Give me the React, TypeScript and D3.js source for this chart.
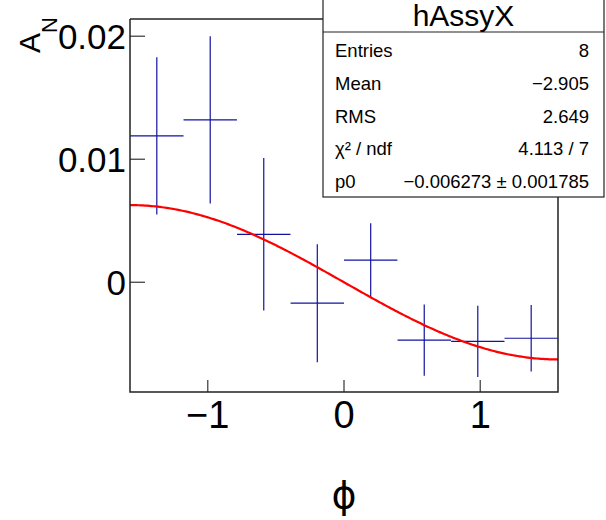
import React from "react";
import * as d3 from "d3";

const xCenters = [-1.374, -0.982, -0.589, -0.196, 0.196, 0.589, 0.982, 1.374];
const binHalfWidth = 0.196;
const values = [0.0119, 0.0132, 0.0039, -0.0017, 0.0018, -0.0047, -0.0048, -0.00455];
const errors = [0.0064, 0.0068, 0.0062, 0.0048, 0.003, 0.0029, 0.0029, 0.0027];
const xTicks = [-1, 0, 1];
const xTickLabels = ["\u22121", "0", "1"];
const yTicks = [0, 0.01, 0.02];
const yTickLabels = ["0", "0.01", "0.02"];
const fitP0 = -0.006273;
const statLabels = ["Entries", "Mean", "RMS", "\u03c7\u00b2 / ndf", "p0"];
const statValues = ["8", "\u22122.905", "2.649", "4.113 / 7", "\u22120.006273 \u00b1 0.001785"];

const W = 606, H = 520;
const L = 130, R = 558, T = 19, B = 392;
const FONT = "'Liberation Sans', Arial, Helvetica, sans-serif";

export default function App() {
  const x = d3.scaleLinear().domain([-Math.PI / 2, Math.PI / 2]).range([L, R]);
  const y = d3.scaleLinear().domain([-0.00892, 0.0214]).range([B, T]);
  const fitPts = d3.range(0, 201).map((i) => -Math.PI / 2 + (Math.PI * i) / 200);
  const fitLine = d3
    .line<number>()
    .x((d) => x(d))
    .y((d) => y(fitP0 * Math.sin(d)))(fitPts);

  const boxL = 323, boxR = 604, boxT = -2, boxB = 197, titleB = 32;

  return (
    <svg width={W} height={H} style={{ position: "absolute", left: 0, top: 0, background: "#fff" }}>
      <rect x={0} y={0} width={W} height={H} fill="#fff" />
      {yTicks.map((t) => (
        <line key={"yt" + t} x1={L} x2={L + 15} y1={y(t)} y2={y(t)} stroke="#444" strokeWidth={1.3} />
      ))}
      {xTicks.map((t) => (
        <line key={"xt" + t} x1={x(t)} x2={x(t)} y1={B} y2={B - 12} stroke="#444" strokeWidth={1.3} />
      ))}
      {xCenters.map((c, i) => (
        <g key={"b" + i} stroke="#12129e" strokeWidth={1.2}>
          <line x1={x(c - binHalfWidth)} x2={x(c + binHalfWidth)} y1={y(values[i])} y2={y(values[i])} />
          <line x1={x(c)} x2={x(c)} y1={y(values[i] - errors[i])} y2={y(values[i] + errors[i])} />
        </g>
      ))}
      <path d={fitLine || ""} fill="none" stroke="#ff0000" strokeWidth={2.2} />
      <path d={`M${L},${T} V${B} H${R} V${boxB}`} fill="none" stroke="#222" strokeWidth={1.5} />
      <line x1={L} x2={boxL} y1={T} y2={T} stroke="#222" strokeWidth={1.5} />
      {yTicks.map((t, i) => (
        <text key={"yl" + t} x={126} y={y(t) + 12.5} textAnchor="end" fontFamily={FONT} fontSize={35} fill="#000">
          {yTickLabels[i]}
        </text>
      ))}
      {xTicks.map((t, i) => (
        <text key={"xl" + t} x={x(t)} y={428} textAnchor="middle" fontFamily={FONT} fontSize={38} fill="#000">
          {xTickLabels[i]}
        </text>
      ))}
      <text x={344} y={508} textAnchor="middle" fontFamily={"'DejaVu Sans', " + FONT} fontSize={38} fill="#000">
        {"\u03d5"}
      </text>
      <text transform="translate(40,17) rotate(-90)" textAnchor="end" fontFamily={FONT} fontSize={30} fill="#000">
        A<tspan fontSize={22} dy={17}>N</tspan>
      </text>
      <rect x={boxL} y={boxT} width={boxR - boxL} height={boxB - boxT} fill="#fff" stroke="#222" strokeWidth={1.2} />
      <line x1={boxL} x2={boxR} y1={titleB} y2={titleB} stroke="#222" strokeWidth={1.2} />
      <text x={(boxL + boxR) / 2} y={26} textAnchor="middle" fontFamily={FONT} fontSize={30} fill="#000">
        hAssyX
      </text>
      {statLabels.map((s, i) => (
        <g key={"s" + i}>
          <text x={335} y={57 + i * 32.75} fontFamily={FONT} fontSize={18.5} fill="#000">
            {s}
          </text>
          <text x={589} y={57 + i * 32.75} textAnchor="end" fontFamily={FONT} fontSize={18.5} fill="#000">
            {statValues[i]}
          </text>
        </g>
      ))}
    </svg>
  );
}
